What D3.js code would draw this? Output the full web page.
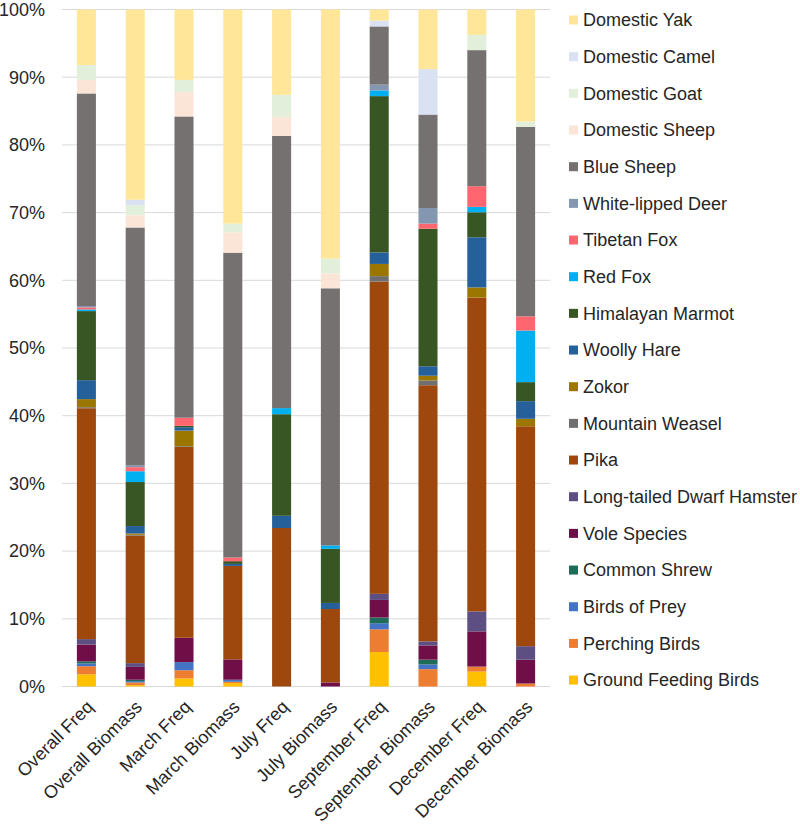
<!DOCTYPE html>
<html><head><meta charset="utf-8">
<script src="https://cdn.jsdelivr.net/npm/d3@7"></script>
<style>body{margin:0;background:#fff;} text{font-family:"Liberation Sans",Arial,sans-serif;}</style>
</head><body><svg id="c" width="800" height="824"></svg>
<script>
const categories = ["Overall Freq","Overall Biomass","March Freq","March Biomass","July Freq","July Biomass","September Freq","September Biomass","December Freq","December Biomass"];
// series listed bottom to top
const seriesNames = ["Ground Feeding Birds","Perching Birds","Birds of Prey","Common Shrew","Vole Species","Long-tailed Dwarf Hamster","Pika","Mountain Weasel","Zokor","Woolly Hare","Himalayan Marmot","Red Fox","Tibetan Fox","White-lipped Deer","Blue Sheep","Domestic Sheep","Domestic Goat","Domestic Camel","Domestic Yak"];
const groundFeedingBirds = [1.8,0.2,1.2,0.5,0,0,5.1,0,2.2,0];
const perchingBirds      = [1.2,0.4,1.2,0.2,0,0,3.35,2.56,0.74,0.44];
const birdsOfPrey        = [0.4,0.2,1.2,0.3,0,0,0.9,0.7,0,0];
const commonShrew        = [0.3,0.2,0,0,0,0,0.84,0.7,0,0];
const voleSpecies        = [2.5,1.9,3.6,3.0,0,0.6,2.6,2.1,5.2,3.5];
const dwarfHamster       = [0.8,0.55,0,0,0,0,0.9,0.6,2.95,2.0];
const pika               = [34.1,18.85,28.2,13.8,23.4,10.85,46.15,37.8,46.35,32.4];
const mountainWeasel     = [0.15,0.1,0.1,0,0,0,0.8,0.7,0,0];
const zokor              = [1.2,0.2,2.3,0,0,0,1.8,0.7,1.5,1.1];
const woollyHare         = [2.8,1.1,0.5,0.3,1.8,0.9,1.7,1.4,7.4,2.6];
const himalayanMarmot    = [10.2,6.5,0.2,0.4,15.0,8.0,23.1,20.3,3.7,2.8];
const redFox             = [0.25,1.6,0,0,0.9,0.5,0.85,0,0.8,7.6];
const tibetanFox         = [0.3,0.6,1.2,0.55,0,0,0,0.75,3.05,2.1];
const whiteLippedDeer    = [0.2,0.3,0,0,0,0,0.85,2.3,0,0];
const blueSheep          = [31.4,35.1,44.5,45.0,40.2,38.0,8.6,13.8,20.1,27.9];
const domesticSheep      = [2.0,1.8,3.6,3.0,2.8,2.2,0,0,0,0];
const domesticGoat       = [2.2,1.5,1.8,1.3,3.25,2.2,0,0,2.25,0.8];
const domesticCamel      = [0,0.8,0,0,0,0,0.85,6.7,0,0];
const domesticYak        = [8.2,28.1,10.4,31.6,12.6,36.8,1.65,8.8,3.75,16.5];
const yTicks = [0,10,20,30,40,50,60,70,80,90,100];

const seriesValues = [groundFeedingBirds,perchingBirds,birdsOfPrey,commonShrew,voleSpecies,dwarfHamster,pika,mountainWeasel,zokor,woollyHare,himalayanMarmot,redFox,tibetanFox,whiteLippedDeer,blueSheep,domesticSheep,domesticGoat,domesticCamel,domesticYak];
const colors = ["#FFC000","#ED7D31","#4472C4","#1E6B58","#700F47","#5E4F82","#9E480E","#6F6F6F","#9C7700","#26609A","#375623","#00B0F0","#FF6670","#8497B0","#767171","#FBE5D6","#E2EFDA","#D9E1F2","#FFE699"];

const rows = categories.map((c,i)=>{const r={cat:c}; seriesNames.forEach((s,j)=>r[s]=seriesValues[j][i]); return r;});
const stack = d3.stack().keys(seriesNames).offset(d3.stackOffsetExpand);
const layers = stack(rows);

const svg = d3.select("#c");
const x = d3.scaleBand().domain(categories).range([62,550]).paddingInner(0.61).paddingOuter(0.305);
const y = d3.scaleLinear().domain([0,1]).range([686.5,9.5]);
const color = d3.scaleOrdinal().domain(seriesNames).range(colors);
const txt = "#262626";

svg.append("g").selectAll("line").data(yTicks).join("line")
  .attr("x1",62).attr("x2",550)
  .attr("y1",d=>y(d/100)).attr("y2",d=>y(d/100))
  .attr("stroke","#d9d9d9").attr("stroke-width",1);

svg.append("g").selectAll("text").data(yTicks).join("text")
  .attr("x",45).attr("y",d=>y(d/100)).attr("dy","0.35em")
  .attr("text-anchor","end").attr("font-size",18).attr("fill",txt)
  .text(d=>d+"%");

svg.append("g").selectAll("g").data(layers).join("g")
  .attr("fill",d=>color(d.key))
  .selectAll("rect").data(d=>d).join("rect")
  .attr("x",d=>x(d.data.cat)).attr("width",x.bandwidth())
  .attr("y",d=>y(d[1])).attr("height",d=>Math.max(0,y(d[0])-y(d[1])));

svg.append("g").selectAll("text").data(categories).join("text")
  .attr("transform",d=>`translate(${x(d)+x.bandwidth()/2-1},${699}) rotate(-45)`)
  .attr("text-anchor","end").attr("dy","0.71em").attr("font-size",18).attr("fill",txt)
  .text(d=>d);

const legendItems = seriesNames.slice().reverse();
const lg = svg.append("g").selectAll("g").data(legendItems).join("g")
  .attr("transform",(d,i)=>`translate(569,${20+i*36.67})`);
lg.append("rect").attr("x",0).attr("y",-4.5).attr("width",9).attr("height",9).attr("fill",d=>color(d));
lg.append("text").attr("x",14).attr("y",0).attr("dy","0.35em").attr("font-size",18).attr("fill",txt).text(d=>d);
</script></body></html>
